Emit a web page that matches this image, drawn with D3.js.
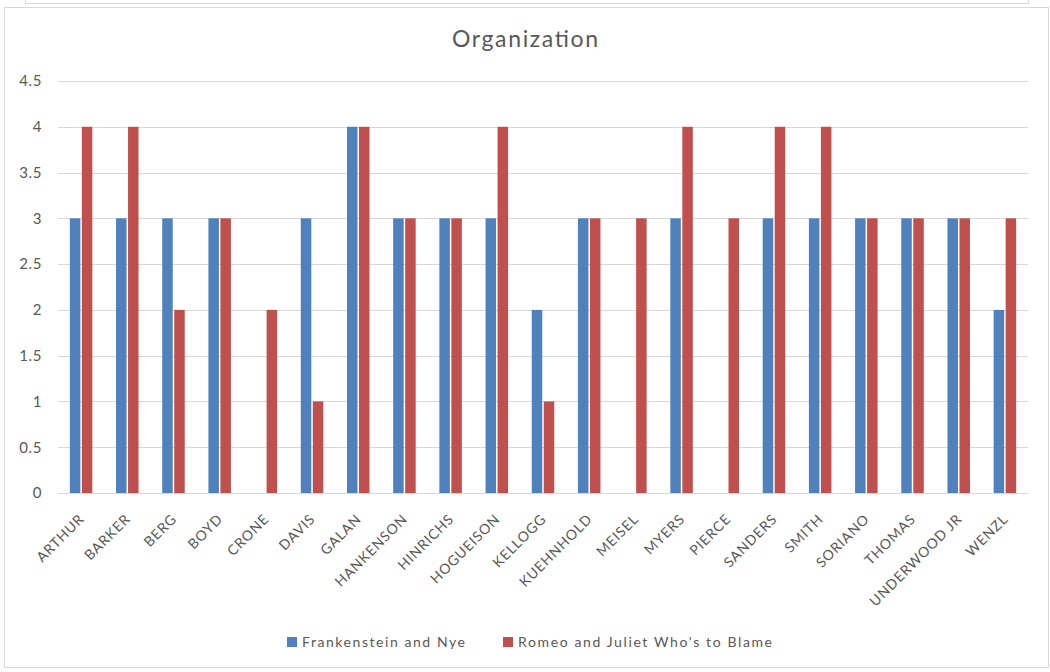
<!DOCTYPE html>
<html>
<head>
<meta charset="utf-8">
<script src="https://cdn.jsdelivr.net/npm/d3@7"></script>
<style>
  html, body { margin: 0; padding: 0; background: #fff; }
  svg { display: block; font-family: Lato, "Open Sans", sans-serif; }
</style>
</head>
<body>
<svg id="chart" width="1050" height="672"></svg>
<script>
// Names on the category axis
const categories = ["ARTHUR", "BARKER", "BERG", "BOYD", "CRONE", "DAVIS", "GALAN", "HANKENSON",
  "HINRICHS", "HOGUEISON", "KELLOGG", "KUEHNHOLD", "MEISEL", "MYERS", "PIERCE", "SANDERS",
  "SMITH", "SORIANO", "THOMAS", "UNDERWOOD JR", "WENZL"];

// Scores per series (null = no score)
const frankenstein = [3, 3, 3, 3, null, 3, 4, 3, 3, 3, 2, 3, null, 3, null, 3, 3, 3, 3, 3, 2];
const romeo        = [4, 4, 2, 3, 2, 1, 4, 3, 3, 4, 1, 3, 3, 4, 3, 4, 4, 3, 3, 3, 3];

const seriesNames = ["Frankenstein and Nye", "Romeo and Juliet Who's to Blame"];
const seriesColors = ["#4f81bd", "#c0504d"];
const yTicks = [0, 0.5, 1, 1.5, 2, 2.5, 3, 3.5, 4, 4.5];

const svg = d3.select("#chart");
const textColor = "#595959";
const lineColor = "#d9d9d9";

// Neighbouring frame edge above and chart frame
svg.append("rect").attr("x", 25.5).attr("y", -5).attr("width", 1003).attr("height", 8.5)
  .attr("fill", "none").attr("stroke", lineColor);
svg.append("rect").attr("x", 4.5).attr("y", 7.5).attr("width", 1044).attr("height", 660)
  .attr("fill", "#fff").attr("stroke", lineColor);

const plot = { left: 58, right: 1028, top: 81, bottom: 493 };

const x = d3.scaleBand().domain(categories).range([plot.left, plot.right]);
const y = d3.scaleLinear().domain([0, 4.5]).range([plot.bottom, plot.top]);

// Title
svg.append("text").attr("x", 452).attr("y", 47)
  .attr("font-size", 23).attr("fill", textColor)
  .attr("textLength", 146).attr("lengthAdjust", "spacing")
  .text("Organization");

// Gridlines
svg.append("g").selectAll("line").data(yTicks.filter(d => d > 0)).join("line")
  .attr("x1", plot.left).attr("x2", plot.right)
  .attr("y1", d => Math.round(y(d)) + 0.5).attr("y2", d => Math.round(y(d)) + 0.5)
  .attr("stroke", lineColor);

// Y axis labels
const yAxis = svg.append("g").attr("transform", `translate(${plot.left},0)`)
  .call(d3.axisLeft(y).tickValues(yTicks).tickSize(0).tickPadding(16)
    .tickFormat(d => String(d)));
yAxis.select(".domain").remove();
yAxis.selectAll("text").attr("font-size", 15).attr("fill", textColor)
  .attr("font-family", "Lato, sans-serif").attr("letter-spacing", 0.6);

// Bars
const barW = 10.5, innerGap = 1.5;
const series = [frankenstein, romeo];
series.forEach((vals, si) => {
  svg.append("g").selectAll("rect")
    .data(categories.map((c, i) => ({ c, v: vals[i] })).filter(d => d.v !== null))
    .join("rect")
    .attr("x", d => x(d.c) + x.bandwidth() / 2 + (si === 0 ? -barW - innerGap / 2 : innerGap / 2))
    .attr("y", d => y(d.v))
    .attr("width", barW)
    .attr("height", d => y(0) - y(d.v))
    .attr("fill", seriesColors[si]);
});

// Category axis
const xAxis = svg.append("g").attr("transform", `translate(0,${plot.bottom})`)
  .call(d3.axisBottom(x).tickSize(0).tickPadding(0));
xAxis.select(".domain").attr("stroke", lineColor).attr("d", `M${plot.left},0.5H${plot.right}`);
xAxis.selectAll(".tick text")
  .attr("font-size", 14).attr("fill", textColor).attr("font-family", "Lato, sans-serif")
  .attr("letter-spacing", 0.8)
  .attr("text-anchor", "end").attr("y", 0).attr("dy", 0)
  .attr("transform", "translate(4,27) rotate(-45)");

// Legend
const legendItems = [{ x: 287, w: 163, label: seriesNames[0], color: seriesColors[0] },
                     { x: 503, w: 254, label: seriesNames[1], color: seriesColors[1] }];
const legend = svg.append("g");
legendItems.forEach(it => {
  legend.append("rect").attr("x", it.x).attr("y", 637).attr("width", 10).attr("height", 10)
    .attr("fill", it.color);
  legend.append("text").attr("x", it.x + 15).attr("y", 647).attr("font-size", 14)
    .attr("fill", textColor).attr("textLength", it.w).attr("lengthAdjust", "spacing")
    .text(it.label);
});
</script>
</body>
</html>
